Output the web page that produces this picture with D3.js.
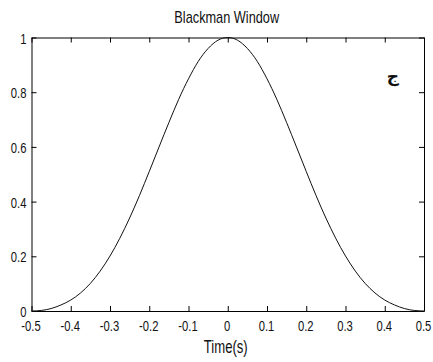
<!DOCTYPE html>
<html>
<head>
<meta charset="utf-8">
<script src="https://cdn.jsdelivr.net/npm/d3@7"></script>
<style>
  html, body { margin: 0; padding: 0; background: #fff; }
  svg { display: block; }
  text { font-family: "Liberation Sans", Arial, Helvetica, sans-serif; fill: #111; }
</style>
</head>
<body>
<svg id="chart" width="433" height="362"></svg>
<script>
// Blackman window samples over time (s)
const times = [-0.5, -0.475, -0.45, -0.425, -0.4, -0.375, -0.35, -0.325, -0.3, -0.275,
               -0.25, -0.225, -0.2, -0.175, -0.15, -0.125, -0.1, -0.075, -0.05, -0.025,
               0, 0.025, 0.05, 0.075, 0.1, 0.125, 0.15, 0.175, 0.2, 0.225,
               0.25, 0.275, 0.3, 0.325, 0.35, 0.375, 0.4, 0.425, 0.45, 0.475, 0.5];
const amplitude = [0, 0.002, 0.009, 0.022, 0.040, 0.066, 0.101, 0.146, 0.201, 0.266,
                   0.340, 0.422, 0.510, 0.600, 0.689, 0.774, 0.849, 0.913, 0.960, 0.990,
                   1.000, 0.990, 0.960, 0.913, 0.849, 0.774, 0.689, 0.600, 0.510, 0.422,
                   0.340, 0.266, 0.201, 0.146, 0.101, 0.066, 0.040, 0.022, 0.009, 0.002, 0];
const xTicks = [-0.5, -0.4, -0.3, -0.2, -0.1, 0, 0.1, 0.2, 0.3, 0.4, 0.5];
const xTickLabels = ["-0.5", "-0.4", "-0.3", "-0.2", "-0.1", "0", "0.1", "0.2", "0.3", "0.4", "0.5"];
const yTicks = [0, 0.2, 0.4, 0.6, 0.8, 1];
const yTickLabels = ["0", "0.2", "0.4", "0.6", "0.8", "1"];
const titleText = "Blackman Window";
const xLabelText = "Time(s)";
const markText = "ج";

const svg = d3.select("#chart");
const m = { left: 31.5, right: 424, top: 37.5, bottom: 311 };

const x = d3.scaleLinear().domain([-0.5, 0.5]).range([m.left, m.right]);
const y = d3.scaleLinear().domain([0, 1]).range([m.bottom, m.top]);

// narrow face: squeeze glyphs horizontally around their anchor point
const SX = 0.75;
function squeeze(sel, px, py) {
  sel.attr("transform", `translate(${px},${py}) scale(${SX},1)`).attr("x", 0).attr("y", 0);
}

const tickLen = 5;
const axisStyle = g => {
  g.select(".domain").attr("stroke", "#000").attr("stroke-width", 1);
  g.selectAll(".tick line").attr("stroke", "#000");
  g.selectAll(".tick text").style("font-size", "15px").attr("fill", "#111");
};

// bottom axis with labels
svg.append("g")
  .attr("transform", `translate(0,${m.bottom})`)
  .call(d3.axisBottom(x).tickValues(xTicks).tickSize(-tickLen).tickSizeOuter(0)
    .tickFormat((d, i) => xTickLabels[i]))
  .call(axisStyle)
  .call(g => g.selectAll(".tick text").attr("dy", null)
    .each(function () { squeeze(d3.select(this), -1, 20); }));

// top mirror ticks
svg.append("g")
  .attr("transform", `translate(0,${m.top})`)
  .call(d3.axisTop(x).tickValues(xTicks).tickSize(-tickLen).tickSizeOuter(0).tickFormat(""))
  .call(axisStyle);

// left axis with labels
svg.append("g")
  .attr("transform", `translate(${m.left},0)`)
  .call(d3.axisLeft(y).tickValues(yTicks).tickSize(-tickLen).tickSizeOuter(0)
    .tickFormat((d, i) => yTickLabels[i]))
  .call(axisStyle)
  .call(g => g.selectAll(".tick text").attr("dy", null)
    .each(function () { squeeze(d3.select(this), -5, 5.5); }));

// right mirror ticks
svg.append("g")
  .attr("transform", `translate(${m.right},0)`)
  .call(d3.axisRight(y).tickValues(yTicks).tickSize(-tickLen).tickSizeOuter(0).tickFormat(""))
  .call(axisStyle);

// window curve
const line = d3.line()
  .x((d, i) => x(times[i]))
  .y(d => y(d))
  .curve(d3.curveMonotoneX);

svg.append("path")
  .datum(amplitude)
  .attr("fill", "none")
  .attr("stroke", "#111")
  .attr("stroke-width", 1)
  .attr("d", line);

// title and axis label
svg.append("text")
  .attr("text-anchor", "middle")
  .style("font-size", "17px")
  .text(titleText)
  .call(s => squeeze(s, (m.left + m.right) / 2 - 1, 23));

svg.append("text")
  .attr("text-anchor", "middle")
  .style("font-size", "17.5px")
  .text(xLabelText)
  .call(s => squeeze(s, (m.left + m.right) / 2 - 2, 352.5));

// panel mark
svg.append("text")
  .attr("x", 393)
  .attr("y", 82)
  .attr("text-anchor", "middle")
  .style("font-family", "'DejaVu Sans', sans-serif")
  .style("font-weight", "bold")
  .style("font-size", "17px")
  .attr("fill", "#000")
  .text(markText);
</script>
</body>
</html>
